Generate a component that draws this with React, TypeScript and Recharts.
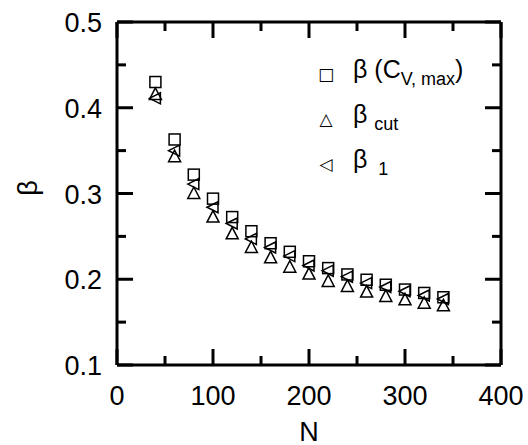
import { ScatterChart, Scatter, XAxis, YAxis } from 'recharts';

const nValues = [40, 60, 80, 100, 120, 140, 160, 180, 200, 220, 240, 260, 280, 300, 320, 340];
const betaCvMax = [0.430, 0.363, 0.322, 0.294, 0.2725, 0.256, 0.242, 0.232, 0.221, 0.213, 0.2056, 0.1994, 0.1936, 0.188, 0.184, 0.179];
const betaCut = [0.4155, 0.343, 0.300, 0.2725, 0.253, 0.237, 0.225, 0.214, 0.206, 0.1975, 0.1916, 0.185, 0.180, 0.176, 0.172, 0.169];
const beta1 = [0.411, 0.350, 0.311, 0.284, 0.265, 0.247, 0.237, 0.227, 0.216, 0.210, 0.203, 0.1955, 0.191, 0.186, 0.181, 0.177];

const xTicks = [0, 50, 100, 150, 200, 250, 300, 350, 400];
const xLabels = [0, 100, 200, 300, 400];
const yTicks = [0.1, 0.15, 0.2, 0.25, 0.3, 0.35, 0.4, 0.45, 0.5];
const yLabels = [0.1, 0.2, 0.3, 0.4, 0.5];

const FONT = '"Liberation Sans", Arial, Helvetica, sans-serif';
const AXIS_LINE = { stroke: '#000', strokeWidth: 3 };

const toPoints = (ys: number[]) => nValues.map((n, i) => ({ n, beta: ys[i] }));

const isMajor = (v: number, list: number[]) => list.some((m) => Math.abs(m - v) < 1e-9);

const BottomTick = (p: any) => {
  const x = Number(p.x);
  const y = Number(p.y);
  const major = isMajor(p.payload.value, xLabels);
  return (
    <g>
      <line x1={x} x2={x} y1={y} y2={y - (major ? 16 : 9)} stroke="#000" strokeWidth={3} />
      {major && (
        <text x={x} y={y + 31} textAnchor="middle" dominantBaseline="central" fontSize={27} fontFamily={FONT} fill="#000">
          {String(p.payload.value)}
        </text>
      )}
    </g>
  );
};

const TopTick = (p: any) => {
  const x = Number(p.x);
  const y = Number(p.y);
  const major = isMajor(p.payload.value, xLabels);
  return <line x1={x} x2={x} y1={y} y2={y + (major ? 16 : 9)} stroke="#000" strokeWidth={3} />;
};

const LeftTick = (p: any) => {
  const x = Number(p.x);
  const y = Number(p.y);
  const major = isMajor(p.payload.value, yLabels);
  return (
    <g>
      <line x1={x} x2={x + (major ? 16 : 9)} y1={y} y2={y} stroke="#000" strokeWidth={3} />
      {major && (
        <text x={x - 15} y={y + 1} textAnchor="end" dominantBaseline="central" fontSize={27} fontFamily={FONT} fill="#000">
          {Number(p.payload.value).toFixed(1)}
        </text>
      )}
    </g>
  );
};

const RightTick = (p: any) => {
  const x = Number(p.x);
  const y = Number(p.y);
  const major = isMajor(p.payload.value, yLabels);
  return <line x1={x} x2={x - (major ? 16 : 9)} y1={y} y2={y} stroke="#000" strokeWidth={3} />;
};

const SquareMark = (p: any) => (
  <rect x={p.cx - 5.5} y={p.cy - 5.5} width={11} height={11} fill="none" stroke="#000" strokeWidth={1.5} />
);

const TriangleMark = (p: any) => (
  <polygon
    points={`${p.cx},${p.cy - 6.5} ${p.cx - 6},${p.cy + 5} ${p.cx + 6},${p.cy + 5}`}
    fill="none"
    stroke="#000"
    strokeWidth={1.5}
  />
);

const LeftTriangleMark = (p: any) => (
  <polygon
    points={`${p.cx - 6},${p.cy} ${p.cx + 5},${p.cy - 5.5} ${p.cx + 5},${p.cy + 5.5}`}
    fill="none"
    stroke="#000"
    strokeWidth={1.5}
  />
);

const EmptyMark = () => <g />;

// legend without inline svg: symbols as glyphs
const LegendBox = () => {
  const row = { display: 'flex', alignItems: 'center', height: 45, whiteSpace: 'nowrap' as const };
  const sym = { width: 16, fontSize: 17, fontFamily: '"DejaVu Sans", sans-serif', textAlign: 'center' as const, lineHeight: '45px' };
  const txt = { marginLeft: 19, fontSize: 25, fontFamily: FONT, color: '#000', lineHeight: '45px' };
  const sub = { fontSize: 18, verticalAlign: '-7px' };
  return (
    <div style={{ position: 'absolute', left: 318, top: 52 }}>
      <div style={row}>
        <span style={sym}>□</span>
        <span style={txt}>
          β (C<span style={sub}>V, max</span>)
        </span>
      </div>
      <div style={row}>
        <span style={sym}>△</span>
        <span style={txt}>
          β <span style={sub}>cut</span>
        </span>
      </div>
      <div style={row}>
        <span style={sym}>◁</span>
        <span style={txt}>
          β <span style={{ ...sub, marginLeft: 4 }}>1</span>
        </span>
      </div>
    </div>
  );
};

export default function App() {
  return (
    <div style={{ position: 'absolute', left: 0, top: 0, width: 528, height: 445, background: '#fff' }}>
      <ScatterChart width={528} height={445} margin={{ top: 21, right: 26, left: 0, bottom: 0 }}>
        <XAxis xAxisId="b" type="number" dataKey="n" domain={[0, 400]} ticks={xTicks} height={80}
          axisLine={AXIS_LINE} tickSize={0} tickMargin={0} tickLine={false} tick={<BottomTick />} interval={0} />
        <XAxis xAxisId="t" type="number" dataKey="n" domain={[0, 400]} ticks={xTicks} height={1} orientation="top"
          axisLine={AXIS_LINE} tickSize={0} tickMargin={0} tickLine={false} tick={<TopTick />} interval={0} />
        <YAxis yAxisId="l" type="number" dataKey="beta" domain={[0.1, 0.5]} ticks={yTicks} width={117}
          axisLine={AXIS_LINE} tickSize={0} tickMargin={0} tickLine={false} tick={<LeftTick />} interval={0} />
        <YAxis yAxisId="r" type="number" dataKey="beta" domain={[0.1, 0.5]} ticks={yTicks} width={1} orientation="right"
          axisLine={AXIS_LINE} tickSize={0} tickMargin={0} tickLine={false} tick={<RightTick />} interval={0} />
        <Scatter xAxisId="b" yAxisId="l" data={toPoints(betaCvMax)} shape={<SquareMark />} fill="none" stroke="#000" isAnimationActive={false} />
        <Scatter xAxisId="b" yAxisId="l" data={toPoints(betaCut)} shape={<TriangleMark />} fill="none" stroke="#000" isAnimationActive={false} />
        <Scatter xAxisId="b" yAxisId="l" data={toPoints(beta1)} shape={<LeftTriangleMark />} fill="none" stroke="#000" isAnimationActive={false} />
        <Scatter xAxisId="t" yAxisId="r" data={toPoints(beta1)} shape={<EmptyMark />} fill="none" isAnimationActive={false} />
      </ScatterChart>
      <LegendBox />
      <div
        style={{
          position: 'absolute',
          left: 309,
          top: 432,
          transform: 'translate(-50%, -50%)',
          fontSize: 27,
          lineHeight: '22px',
          fontFamily: FONT,
        }}
      >
        N
      </div>
      <div
        style={{
          position: 'absolute',
          left: 28,
          top: 188,
          transform: 'translate(-50%, -50%) rotate(-90deg)',
          fontSize: 27,
          lineHeight: '27px',
          fontFamily: FONT,
        }}
      >
        β
      </div>
    </div>
  );
}
